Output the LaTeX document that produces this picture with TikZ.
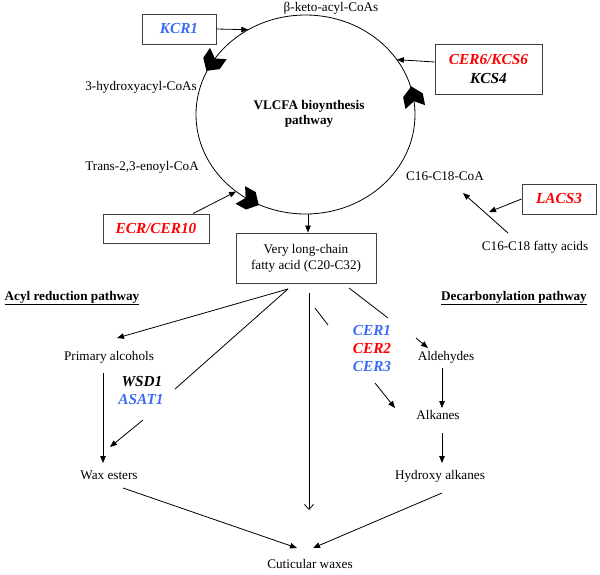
\documentclass[tikz,border=0pt]{standalone}
\usepackage{fontspec}
\setmainfont{Liberation Serif}
\usetikzlibrary{arrows.meta}
\usetikzlibrary{shapes.geometric}

\definecolor{geneblue}{RGB}{58,108,245}
\definecolor{genered}{RGB}{255,0,0}

\begin{document}
\begin{tikzpicture}[x=1pt,y=-1pt,
	font=\fontsize{13.2}{15.5}\selectfont,
	txt/.style={inner sep=0pt, text height=9pt, text depth=3pt},
	gene/.style={inner sep=0pt, font=\fontsize{15.3}{19}\selectfont\bfseries\itshape, text height=10.5pt, text depth=3.5pt},
	genebox/.style={draw=black!75, line width=0.9pt, inner sep=0pt, font=\fontsize{15.3}{19}\selectfont\bfseries\itshape, align=center},
	arr/.style={line width=0.8pt, -{Triangle[length=7pt,width=5.5pt]}},
	plain/.style={line width=0.8pt}]
	\useasboundingbox (0,0) rectangle (600,574);

	% elongation cycle
	\node[draw, ellipse, line width=0.8pt, inner sep=0pt, outer sep=0pt, minimum width=219pt, minimum height=199pt] (cyc) at (305.5,114.5) {};
	\node[font=\fontsize{13.2}{15}\selectfont\bfseries, align=center] (vlcfa) at (309,114) {VLCFA bioynthesis\\pathway};
	\foreach \t in {148,10,239}{
		\pgfmathsetmacro\mx{305.5+109.5*cos(\t)}
		\pgfmathsetmacro\my{114.5-99.5*sin(\t)}
		\pgfmathsetmacro\rot{atan2(99.5*cos(\t),-109.5*sin(\t))}
		\fill[shift={(\mx,\my)}, rotate=\rot] (11,0) -- (2,10) -- (-10,10) -- (-4,0) -- (-10,-10) -- (2,-10) -- cycle;
	}

	\node[txt] (keto) at (331,8) {β-keto-acyl-CoAs};
	\node[txt, anchor=east] (hydroxy) at (197,87) {3-hydroxyacyl-CoAs};
	\node[txt, anchor=east] (enoyl) at (199,167) {Trans-2,3-enoyl-CoA};
	\node[txt] (c16coa) at (445,177) {C16-C18-CoA};
	\node[txt] (c16fa) at (535,247) {C16-C18 fatty acids};

	\node[genebox, minimum width=74pt, minimum height=30pt, text=geneblue] (kcr) at (179,29) {KCR1};
	\node[genebox, minimum width=107pt, minimum height=50pt] (cer6) at (488.5,69) {\textcolor{genered}{CER6/KCS6}\\KCS4};
	\node[genebox, minimum width=74pt, minimum height=30pt, text=genered] (lacs) at (559,199) {LACS3};
	\node[genebox, minimum width=106pt, minimum height=29pt, text=genered] (ecr) at (156,228.5) {ECR/CER10};
	\node[draw=black!75, line width=0.9pt, minimum width=140pt, minimum height=50pt, align=center, font=\fontsize{13.2}{16}\selectfont] (vlc) at (306,258) {Very long-chain\\fatty acid (C20-C32)};

	\draw[arr] (kcr.east) -- (cyc.124.4);
	\draw[arr] ([shift={(0,-7)}]cer6.west) -- (cyc.31.4);
	\draw[arr] ([shift={(37,0)}]ecr.north) -- (cyc.228.4);
	\draw[arr] (lacs.west) -- ([shift={(44,35)}]c16coa.center);
	\draw[arr] ([shift={(-27,-14)}]c16fa.center) -- ([shift={(18,16)}]c16coa.center);
	\draw[arr] ([xshift=2.5pt]cyc.south) -- ([xshift=2.5pt]cyc.south |- vlc.north);

	% branches
	\node[txt, font=\fontsize{13.2}{15}\selectfont\bfseries] (acyl) at (72,297) {\underline{Acyl reduction pathway}};
	\node[txt, font=\fontsize{13.2}{15}\selectfont\bfseries] (decarb) at (514,297) {\underline{Decarbonylation pathway}};
	\node[txt] (palc) at (109,357) {Primary alcohols};
	\node[gene] (wsd) at (142,383) {WSD1};
	\node[gene, text=geneblue] (asat) at (141,401) {ASAT1};
	\node[txt] (wax) at (109,476) {Wax esters};
	\node[gene, text=geneblue] (cer1) at (372,332) {CER1};
	\node[gene, text=genered] (cer2) at (372,350) {CER2};
	\node[gene, text=geneblue] (cer3) at (372,368) {CER3};
	\node[txt] (ald) at (446,357) {Aldehydes};
	\node[txt] (alk) at (438,416) {Alkanes};
	\node[txt] (hyd) at (440,476) {Hydroxy alkanes};
	\node[txt] (cut) at (310,565) {Cuticular waxes};

	\draw[arr] ([shift={(-18,31)}]vlc.center) -- ([shift={(8,-19)}]palc.center);
	\draw[plain] ([shift={(-18,31)}]vlc.center) -- ([shift={(33,6)}]wsd.center);
	\draw[arr] ([shift={(2,19)}]asat.center) -- ([shift={(1,-29)}]wax.center);
	\draw[arr] ([shift={(-6,16)}]palc.center) -- ([shift={(-6,-13)}]wax.center);
	\draw[arr] ([shift={(14,12)}]wax.center) -- ([shift={(-13,-17)}]cut.center);
	\draw[line width=0.8pt, -{Straight Barb[length=5pt,width=9pt]}] ([shift={(3,35)}]vlc.center) -- ([shift={(-1,-55)}]cut.center);
	\draw[plain] ([shift={(9,50)}]vlc.center) -- ([shift={(-44,-7)}]cer1.center);
	\draw[plain] ([shift={(43,30)}]vlc.center) -- ([shift={(16,-14)}]cer1.center);
	\draw[arr] ([shift={(44,6)}]cer1.center) -- ([shift={(-18,-9)}]ald.center);
	\draw[arr] ([shift={(-4,11)}]ald.center) -- ([shift={(4,-8)}]alk.center);
	\draw[arr] ([shift={(3,15)}]cer3.center) -- ([shift={(-43,-8)}]alk.center);
	\draw[arr] ([shift={(4,17)}]alk.center) -- ([shift={(2,-13)}]hyd.center);
	\draw[arr] ([shift={(2,17)}]hyd.center) -- ([shift={(3,-17)}]cut.center);
\end{tikzpicture}
\end{document}
